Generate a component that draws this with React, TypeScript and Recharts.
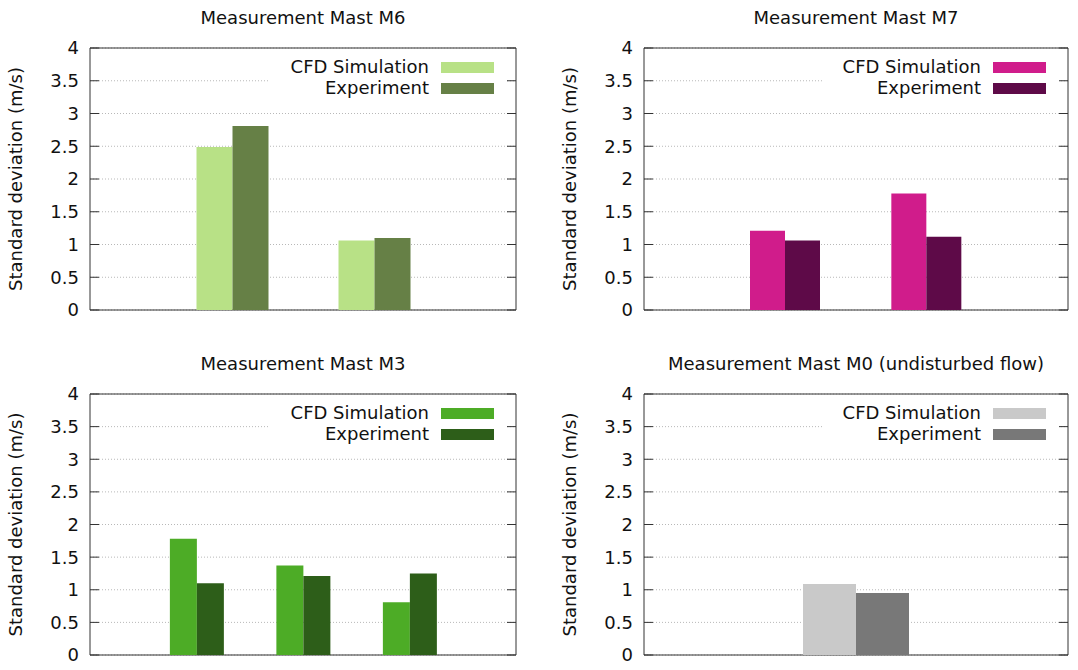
import React from 'react';
import { BarChart, Bar, XAxis, YAxis, CartesianGrid, Legend } from 'recharts';

const FONT = '"DejaVu Sans", Verdana, sans-serif';
const FS = 18;

// ---- data ----
const m6Categories = ['Position 1', 'Position 2'];
const m6Cfd = [2.49, 1.06];
const m6Exp = [2.81, 1.1];

const m7Categories = ['Position 1', 'Position 2'];
const m7Cfd = [1.21, 1.78];
const m7Exp = [1.06, 1.12];

const m3Categories = ['Position 1', 'Position 2', 'Position 3'];
const m3Cfd = [1.78, 1.37, 0.81];
const m3Exp = [1.1, 1.21, 1.25];

const m0Categories = ['Position 1'];
const m0Cfd = [1.09];
const m0Exp = [0.95];

const yTicks = [0, 0.5, 1, 1.5, 2, 2.5, 3, 3.5, 4];
const seriesNames = ['CFD Simulation', 'Experiment'];
const yLabel = 'Standard deviation (m/s)';

type PanelProps = {
  title: string;
  categories: string[];
  cfd: number[];
  exp: number[];
  cfdColor: string;
  expColor: string;
  chartLeft: number;
  chartTop: number;
  plotLeft: number;
  plotRight: number;
  plotTop: number;
  plotBottom: number;
};

const W = 539;
const H = 335;
const BORDER = '#333333';

const borderX = (args: any) => {
  const o = args && args.offset;
  if (!o) return [];
  return [o.left, o.left + o.width];
};
const borderY = (args: any) => {
  const o = args && args.offset;
  if (!o) return [];
  return [o.top, o.top + o.height];
};

function Panel(p: PanelProps) {
  const data = p.categories.map((c, i) => ({ name: c, cfd: p.cfd[i], exp: p.exp[i] }));
  const yAxisWidth = p.plotLeft - p.chartLeft;
  const mTop = p.plotTop - p.chartTop;
  const mBottom = p.chartTop + H - p.plotBottom;
  const mRight = p.chartLeft + W - p.plotRight;
  const pl = yAxisWidth; // chart-relative plot left
  const pr = W - mRight;
  const plotWidth = pr - pl;
  const plotHeight = p.plotBottom - p.plotTop;
  const unit = plotWidth / (p.categories.length + 1);
  const pad = unit / 2;

  const renderTick = (props: any) => {
    const { y, payload } = props;
    return (
      <g>
        <line x1={pl} x2={pl + 9} y1={y} y2={y} stroke={BORDER} strokeWidth={1} />
        <line x1={pr - 9} x2={pr} y1={y} y2={y} stroke={BORDER} strokeWidth={1} />
        <text x={pl - 11} y={y} dy="0.355em" textAnchor="end" fontFamily={FONT} fontSize={FS} fill="#111">
          {String(payload.value)}
        </text>
      </g>
    );
  };

  const cx = pl - 74;
  const cy = mTop + plotHeight / 2;
  const renderYLabel = () => (
    <text
      x={cx}
      y={cy}
      dy="0.355em"
      textAnchor="middle"
      transform={`rotate(-90 ${cx} ${cy})`}
      fontFamily={FONT}
      fontSize={FS}
      fill="#111"
    >
      {yLabel}
    </text>
  );

  const boxW = 237;
  const boxH = 48;
  const renderLegend = (props: any) => {
    const payload = props.payload || [];
    return (
      <div style={{ position: 'relative', width: boxW, height: boxH, background: '#fff' }}>
        {payload.map((entry: any, i: number) => {
          const center = 15 + i * 21;
          return (
            <React.Fragment key={i}>
              <div
                style={{
                  position: 'absolute',
                  left: 0,
                  width: 159,
                  top: center - 11,
                  height: 22,
                  lineHeight: '22px',
                  textAlign: 'right',
                  fontFamily: FONT,
                  fontSize: FS,
                  color: '#111',
                  whiteSpace: 'nowrap',
                }}
              >
                {entry.value}
              </div>
              <div
                style={{
                  position: 'absolute',
                  left: 171,
                  width: 53,
                  top: center - 5.5,
                  height: 11,
                  background: entry.color,
                }}
              />
            </React.Fragment>
          );
        })}
      </div>
    );
  };

  return (
    <div style={{ position: 'absolute', left: p.chartLeft, top: p.chartTop, width: W, height: H }}>
      <BarChart
        width={W}
        height={H}
        data={data}
        margin={{ top: mTop, right: mRight, bottom: mBottom, left: 0 }}
        barGap={0}
        barCategoryGap="25%"
      >
        <CartesianGrid horizontal vertical={false} stroke="#b8b8b8" strokeDasharray="1 2" />
        <CartesianGrid
          horizontal
          vertical
          stroke={BORDER}
          strokeWidth={1}
          fill="none"
          horizontalCoordinatesGenerator={borderY}
          verticalCoordinatesGenerator={borderX}
        />
        <XAxis dataKey="name" hide padding={{ left: pad, right: pad }} />
        <YAxis
          type="number"
          domain={[0, 4]}
          ticks={yTicks}
          interval={0}
          width={yAxisWidth}
          axisLine={false}
          tickLine={false}
          tickSize={0}
          tickMargin={0}
          tick={renderTick}
          label={{ content: renderYLabel }}
        />
        <Bar dataKey="cfd" name={seriesNames[0]} fill={p.cfdColor} isAnimationActive={false} />
        <Bar dataKey="exp" name={seriesNames[1]} fill={p.expColor} isAnimationActive={false} />
        <Legend
          layout="vertical"
          align="center"
          verticalAlign="middle"
          wrapperStyle={{ left: pr - 246, top: mTop + 4, width: boxW, height: boxH }}
          content={renderLegend}
        />
      </BarChart>
    </div>
  );
}

const panels: PanelProps[] = [
  {
    title: 'Measurement Mast M6',
    categories: m6Categories,
    cfd: m6Cfd,
    exp: m6Exp,
    cfdColor: '#b8e186',
    expColor: '#668046',
    chartLeft: 0,
    chartTop: 0,
    plotLeft: 90,
    plotRight: 516,
    plotTop: 48,
    plotBottom: 310,
  },
  {
    title: 'Measurement Mast M7',
    categories: m7Categories,
    cfd: m7Cfd,
    exp: m7Exp,
    cfdColor: '#d01c8b',
    expColor: '#5e0a48',
    chartLeft: 539,
    chartTop: 0,
    plotLeft: 644,
    plotRight: 1068,
    plotTop: 48,
    plotBottom: 310,
  },
  {
    title: 'Measurement Mast M3',
    categories: m3Categories,
    cfd: m3Cfd,
    exp: m3Exp,
    cfdColor: '#4dac26',
    expColor: '#2d5e19',
    chartLeft: 0,
    chartTop: 335,
    plotLeft: 90,
    plotRight: 516,
    plotTop: 394,
    plotBottom: 655,
  },
  {
    title: 'Measurement Mast M0 (undisturbed flow)',
    categories: m0Categories,
    cfd: m0Cfd,
    exp: m0Exp,
    cfdColor: '#c9c9c9',
    expColor: '#787878',
    chartLeft: 539,
    chartTop: 335,
    plotLeft: 644,
    plotRight: 1068,
    plotTop: 394,
    plotBottom: 655,
  },
];

export default function App() {
  return (
    <div style={{ position: 'absolute', left: 0, top: 0, width: 1078, height: 670, background: '#fff' }}>
      {panels.map((p, i) => (
        <Panel key={i} {...p} />
      ))}
      <svg width={1078} height={670} style={{ position: 'absolute', left: 0, top: 0, pointerEvents: 'none' }}>
        {panels.map((p, i) => (
          <text
            key={i}
            x={(p.plotLeft + p.plotRight) / 2}
            y={p.plotTop - 24.4}
            textAnchor="middle"
            fontFamily={FONT}
            fontSize={FS}
            fill="#111"
          >
            {p.title}
          </text>
        ))}
      </svg>
    </div>
  );
}
